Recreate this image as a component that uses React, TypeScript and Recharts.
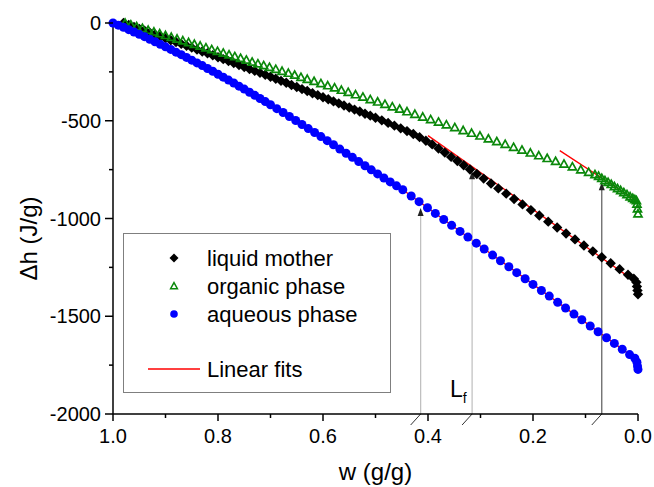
import {
  ScatterChart, Scatter, XAxis, YAxis, ReferenceLine, ReferenceDot, Legend,
} from 'recharts'

const FONT = '"Liberation Sans", Arial, sans-serif'

// liquid mother (black diamonds)
const motherW = [
  0.98, 0.97, 0.96, 0.95, 0.94, 0.93, 0.92, 0.91, 0.9, 0.89, 0.88, 0.87, 0.86, 0.85, 0.84, 0.83,
  0.82, 0.81, 0.8, 0.79, 0.78, 0.77, 0.76, 0.75, 0.74, 0.73, 0.72, 0.71, 0.7, 0.69, 0.68, 0.67,
  0.66, 0.65, 0.64, 0.63, 0.62, 0.61, 0.6, 0.59, 0.58, 0.57, 0.56, 0.55, 0.54, 0.53, 0.52, 0.51,
  0.5, 0.488, 0.476, 0.464, 0.452, 0.44, 0.428, 0.416, 0.404, 0.392, 0.38, 0.368, 0.356, 0.344,
  0.332, 0.32, 0.307, 0.294, 0.28, 0.266, 0.251, 0.236, 0.22, 0.204, 0.188, 0.171, 0.154, 0.137,
  0.12, 0.103, 0.086, 0.069, 0.052, 0.035, 0.019, 0.008, 0.003, 0.002, 0.001, 0,
]
const motherH = [
  0, -10, -20, -30, -39, -49, -59, -68, -78, -88, -97, -107, -116, -126, -136, -146,
  -155, -165, -175, -185, -195, -205, -215, -225, -235, -245, -255, -265, -275, -285, -296, -306,
  -317, -327, -338, -348, -359, -369, -380, -390, -401, -411, -422, -432, -443, -453, -464, -474,
  -485, -498, -511, -525, -539, -553, -568, -584, -602, -621, -642, -663, -685, -706,
  -728, -749, -772, -796, -821, -846, -873, -900, -928, -957, -985, -1016, -1046, -1077,
  -1107, -1138, -1168, -1198, -1229, -1259, -1288, -1308, -1326, -1348, -1368, -1388,
]

// organic phase (green open triangles)
const organicW = [
  0.977, 0.966, 0.955, 0.944, 0.933, 0.922, 0.911, 0.9, 0.889, 0.878, 0.867, 0.856, 0.845,
  0.834, 0.823, 0.812, 0.801, 0.79, 0.779, 0.768, 0.757, 0.746, 0.735, 0.724, 0.713, 0.702,
  0.69, 0.678, 0.666, 0.654, 0.642, 0.63, 0.617, 0.604, 0.591, 0.578, 0.565, 0.552,
  0.538, 0.524, 0.51, 0.496, 0.482, 0.468, 0.454, 0.44, 0.425, 0.41, 0.395, 0.38, 0.365,
  0.349, 0.333, 0.317, 0.301, 0.285, 0.269, 0.253, 0.237, 0.221, 0.205, 0.189, 0.173, 0.157,
  0.141, 0.125, 0.109, 0.094, 0.082, 0.075, 0.069, 0.063, 0.057, 0.051, 0.045, 0.039, 0.033,
  0.027, 0.021, 0.015, 0.01, 0.006, 0.003, 0.002, 0.001, 0,
]
const organicH = [
  0, -9, -18, -27, -36, -45, -54, -63, -72, -81, -90, -99, -108,
  -117, -126, -135, -144, -153, -162, -171, -180, -189, -199, -208, -217, -226,
  -236, -246, -256, -266, -277, -287, -298, -309, -320, -331, -343, -354,
  -366, -378, -391, -403, -415, -428, -440, -453, -466, -480, -493, -506, -520,
  -534, -549, -563, -577, -592, -606, -620, -635, -649, -664, -678, -692, -707,
  -721, -735, -750, -763, -775, -783, -794, -805, -814, -825, -836, -846, -856,
  -867, -877, -888, -896, -903, -908, -925, -950, -975,
]

// aqueous phase (blue circles)
const aqueousW = [
  1, 0.99, 0.98, 0.97, 0.96, 0.95, 0.94, 0.93, 0.92, 0.91, 0.9, 0.89, 0.88, 0.87, 0.86, 0.85,
  0.84, 0.83, 0.82, 0.81, 0.8, 0.79, 0.78, 0.77, 0.76, 0.75, 0.74, 0.73, 0.72, 0.71, 0.7,
  0.688, 0.676, 0.664, 0.652, 0.64, 0.628, 0.616, 0.604, 0.592, 0.58, 0.568, 0.556, 0.544,
  0.532, 0.52, 0.508, 0.496, 0.484, 0.472, 0.46, 0.448, 0.432, 0.417, 0.401, 0.386, 0.37,
  0.355, 0.339, 0.324, 0.308, 0.293, 0.277, 0.262, 0.246, 0.231, 0.215, 0.2, 0.184, 0.169,
  0.153, 0.138, 0.122, 0.107, 0.091, 0.076, 0.06, 0.045, 0.03, 0.016, 0.006, 0.002, 0.001, 0,
]
const aqueousH = [
  0, -11, -22, -34, -46, -58, -70, -83, -96, -109, -122, -135, -149, -162, -176, -190,
  -204, -218, -233, -247, -262, -277, -292, -307, -323, -338, -354, -370, -386, -402, -418,
  -438, -458, -478, -499, -519, -540, -560, -581, -602, -623, -645, -666, -687,
  -709, -730, -751, -772, -793, -813, -833, -853, -885, -914, -945, -974, -1005,
  -1035, -1066, -1095, -1126, -1156, -1187, -1216, -1247, -1277, -1308, -1337, -1368, -1397,
  -1429, -1458, -1489, -1518, -1550, -1579, -1610, -1639, -1669, -1696, -1715, -1735, -1755, -1772,
]

const seriesNames = ['liquid mother', 'organic phase', 'aqueous phase']
const fitName = 'Linear fits'

// linear fits: mother, organic, aqueous
const fitStartW = [0.4, 0.149, 0.45]
const fitStartH = [-576, -653, -849]
const fitEndW = [0, 0, 0]
const fitEndH = [-1332, -914, -1727]

// arrows from the w axis up to the curves
const arrowW = [0.414, 0.316, 0.069]
const arrowTipH = [-946, -758, -815]
const arrowColor = ['#bdbdbd', '#bdbdbd', '#5a5a5a']

const lfW = 0.358
const lfH = -1911

const xTicks = [0, 0.1, 0.2, 0.3, 0.4, 0.5, 0.6, 0.7, 0.8, 0.9, 1]
const yTicks = [-2000, -1750, -1500, -1250, -1000, -750, -500, -250, 0]

const toPoints = (ws: number[], hs: number[]) => ws.map((w, i) => ({ w, h: hs[i] }))

const motherData = toPoints(motherW, motherH)
const organicData = toPoints(organicW, organicH)
const aqueousData = toPoints(aqueousW, aqueousH)

const diamondPath = (cx: number, cy: number, s: number) =>
  `M${cx},${cy - s} L${cx + s},${cy} L${cx},${cy + s} L${cx - s},${cy} Z`
const trianglePath = (cx: number, cy: number, s: number) =>
  `M${cx},${cy - s} L${cx + s},${cy + s * 0.8} L${cx - s},${cy + s * 0.8} Z`

const DiamondShape = (p: any) => <path d={diamondPath(p.cx, p.cy, 5.2)} fill="#000" />
const TriangleShape = (p: any) => (
  <path d={trianglePath(p.cx, p.cy, 4)} fill="none" stroke="#0a880a" strokeWidth={1.7} />
)
const CircleShape = (p: any) => <circle cx={p.cx} cy={p.cy} r={4.5} fill="#0000ff" />

function renderXTick(props: any) {
  const { x, y, payload } = props
  const v = payload.value
  const major = Math.round(v * 10) % 2 === 0
  return (
    <g>
      <line x1={x} y1={y} x2={x} y2={y + (major ? 7 : 4)} stroke="#000" strokeWidth={1.5} />
      {major && (
        <text x={x} y={y + 29} textAnchor="middle" fontSize={20} fontFamily={FONT} fill="#000">
          {v.toFixed(1)}
        </text>
      )}
    </g>
  )
}

function renderYTick(props: any) {
  const { x, y, payload } = props
  const v = payload.value
  const major = v % 500 === 0
  return (
    <g>
      <line x1={x} y1={y} x2={x - (major ? 8 : 4)} y2={y} stroke="#000" strokeWidth={1.5} />
      {major && (
        <text x={x - 12} y={y + 7} textAnchor="end" fontSize={20} fontFamily={FONT} fill="#000">
          {v}
        </text>
      )}
    </g>
  )
}

const XTitle = (props: any) => {
  const vb = props.viewBox
  return (
    <text x={vb.x + vb.width / 2} y={vb.y + 66} textAnchor="middle" fontSize={24} fontFamily={FONT} fill="#000">
      w (g/g)
    </text>
  )
}

const YTitle = (props: any) => {
  const vb = props.viewBox
  const cy = vb.y + vb.height / 2 + 20
  return (
    <text x={37} y={cy} transform={`rotate(-90, 37, ${cy})`} textAnchor="middle" fontSize={24} fontFamily={FONT} fill="#000">
      Δh (J/g)
    </text>
  )
}

const arrowShape = (color: string) => (p: any) => {
  const { x1, y1, x2, y2 } = p
  return (
    <g>
      <line x1={x1} y1={y1} x2={x2} y2={y2 + 5} stroke={color} strokeWidth={1.2} />
      <path d={`M${x2},${y2} L${x2 + 3},${y2 + 8} L${x2 - 3},${y2 + 8} Z`} fill="#222" />
      <line x1={x1 - 10} y1={y1 + 11} x2={x1} y2={y1} stroke="#333" strokeWidth={1} />
    </g>
  )
}

const LfShape = (p: any) => (
  <text x={p.cx} y={p.cy} fontSize={23} fontFamily={FONT} fill="#000">
    L<tspan dy={6} fontSize={14}>f</tspan>
  </text>
)

function LegendBox() {
  const rows = [25, 53, 81]
  return (
    <svg width={268} height={160} style={{ display: 'block' }}>
      <rect x={0.5} y={0.5} width={267} height={159} fill="#fff" stroke="#7f7f7f" strokeWidth={1} />
      <path d={diamondPath(51, rows[0], 4.5)} fill="#000" />
      <path d={trianglePath(51, rows[1], 3.4)} fill="none" stroke="#0a880a" strokeWidth={1.5} />
      <circle cx={51} cy={rows[2]} r={3.8} fill="#0000ff" />
      {seriesNames.map((n, i) => (
        <text key={n} x={84} y={rows[i] + 8} fontSize={22} fontFamily={FONT} fill="#000">{n}</text>
      ))}
      <line x1={25} y1={136} x2={77} y2={136} stroke="#ff0000" strokeWidth={1.3} />
      <text x={84} y={144} fontSize={22} fontFamily={FONT} fill="#000">{fitName}</text>
    </svg>
  )
}

export default function App() {
  return (
    <div style={{ width: 654, height: 487, background: '#fff', fontFamily: FONT }}>
      <style>{'body{margin:0}'}</style>
      <ScatterChart width={654} height={487} margin={{ top: 23, right: 16, bottom: 0, left: 0 }}>
        <XAxis
          type="number"
          dataKey="w"
          domain={[0, 1]}
          ticks={xTicks}
          interval={0}
          reversed
          height={73}
          tickSize={0}
          tickMargin={0}
          tickLine={false}
          tick={renderXTick}
          axisLine={{ stroke: '#000', strokeWidth: 1.5 }}
          label={XTitle}
        />
        <YAxis
          type="number"
          dataKey="h"
          domain={[-2000, 0]}
          ticks={yTicks}
          interval={0}
          width={113}
          tickSize={0}
          tickMargin={0}
          tickLine={false}
          tick={renderYTick}
          axisLine={{ stroke: '#000', strokeWidth: 1.5 }}
          label={YTitle}
        />
        <Scatter name={seriesNames[0]} data={motherData} shape={DiamondShape} isAnimationActive={false} />
        <Scatter name={seriesNames[1]} data={organicData} shape={TriangleShape} isAnimationActive={false} />
        <Scatter name={seriesNames[2]} data={aqueousData} shape={CircleShape} isAnimationActive={false} />
        {fitStartW.map((w, i) => (
          <ReferenceLine
            key={`fit${i}`}
            segment={[{ x: w, y: fitStartH[i] }, { x: fitEndW[i], y: fitEndH[i] }]}
            stroke="#ff0000"
            strokeWidth={1.3}
            ifOverflow="visible"
          />
        ))}
        {arrowW.map((w, i) => (
          <ReferenceLine
            key={`arrow${i}`}
            segment={[{ x: w, y: -2000 }, { x: w, y: arrowTipH[i] }]}
            ifOverflow="visible"
            shape={arrowShape(arrowColor[i])}
          />
        ))}
        <ReferenceDot x={lfW} y={lfH} r={0} ifOverflow="visible" shape={LfShape} />
        <Legend
          layout="vertical"
          align="center"
          verticalAlign="middle"
          content={() => <LegendBox />}
          wrapperStyle={{ position: 'absolute', left: 123, top: 233, width: 268, height: 160, margin: 0, padding: 0 }}
        />
      </ScatterChart>
    </div>
  )
}
